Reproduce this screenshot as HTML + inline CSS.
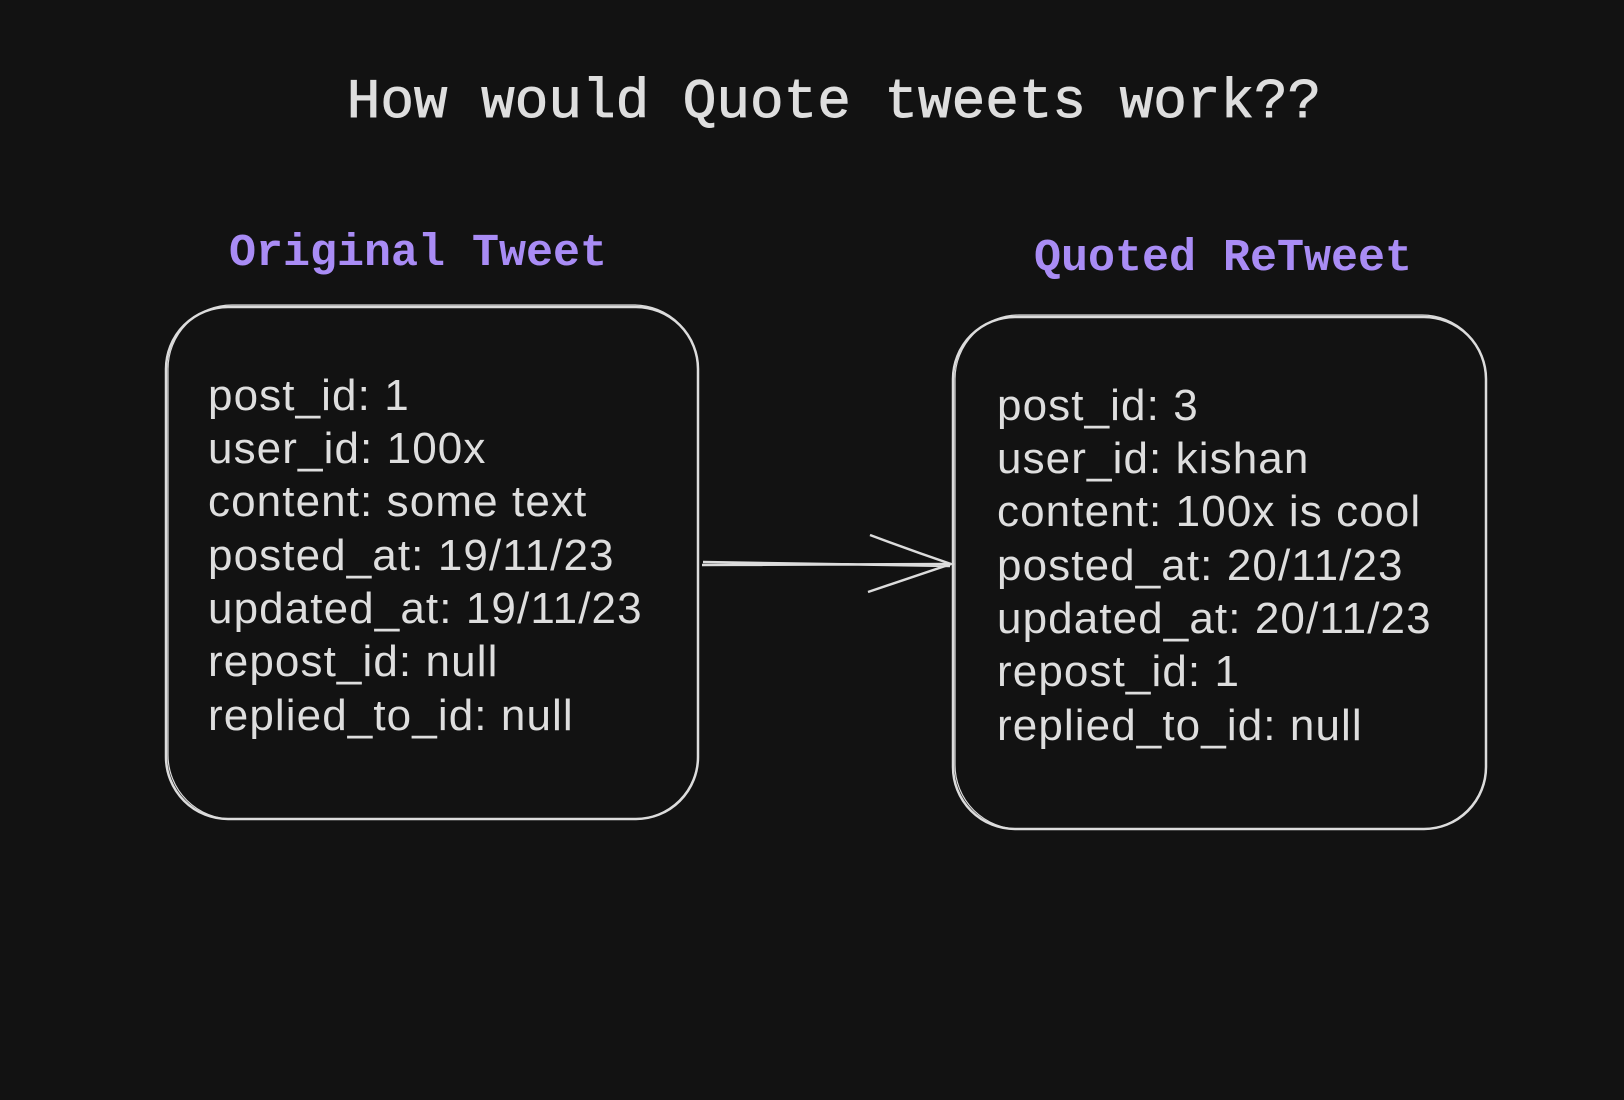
<!DOCTYPE html>
<html><head><meta charset="utf-8"><style>
html,body{margin:0;padding:0;background:#121212;}
svg{display:block}
</style></head><body>
<svg width="1624" height="1100" viewBox="0 0 1624 1100" xmlns="http://www.w3.org/2000/svg">
<rect width="1624" height="1100" fill="#121212"/>
<text x="834" y="117" text-anchor="middle" font-family="Liberation Mono, monospace" font-size="56" fill="#dedede" stroke="#dedede" stroke-width="0.9">How would Quote tweets work??</text>
<text x="418" y="265" text-anchor="middle" font-family="Liberation Mono, monospace" font-size="45" font-weight="bold" fill="#a98cf5">Original Tweet</text>
<text x="1223" y="270" text-anchor="middle" font-family="Liberation Mono, monospace" font-size="45" font-weight="bold" fill="#a98cf5">Quoted ReTweet</text>
<g fill="none" stroke="#dcdcdc" stroke-width="2.5">
<rect x="166" y="307" width="532" height="512" rx="62"/>
<rect x="168" y="305" width="530" height="514" rx="64" stroke-width="1.2"/>
<rect x="953" y="317" width="533" height="512" rx="62"/>
<rect x="955" y="315" width="531" height="514" rx="64" stroke-width="1.2"/>
<path d="M702 565 L951 564 M703 562 L950 566"/>
<path d="M870 535 Q910 550 951 564 Q910 578 868 592"/>
</g>
<g font-family="Liberation Sans, Arial, sans-serif" font-size="44" letter-spacing="1.1" fill="#dedede">
<text x="208" y="410">post_id: 1</text>
<text x="208" y="463">user_id: 100x</text>
<text x="208" y="516">content: some text</text>
<text x="208" y="570">posted_at: 19/11/23</text>
<text x="208" y="623">updated_at: 19/11/23</text>
<text x="208" y="676">repost_id: null</text>
<text x="208" y="730">replied_to_id: null</text>
<text x="997" y="420">post_id: 3</text>
<text x="997" y="473">user_id: kishan</text>
<text x="997" y="526">content: 100x is cool</text>
<text x="997" y="580">posted_at: 20/11/23</text>
<text x="997" y="633">updated_at: 20/11/23</text>
<text x="997" y="686">repost_id: 1</text>
<text x="997" y="740">replied_to_id: null</text>
</g>
</svg>
</body></html>
